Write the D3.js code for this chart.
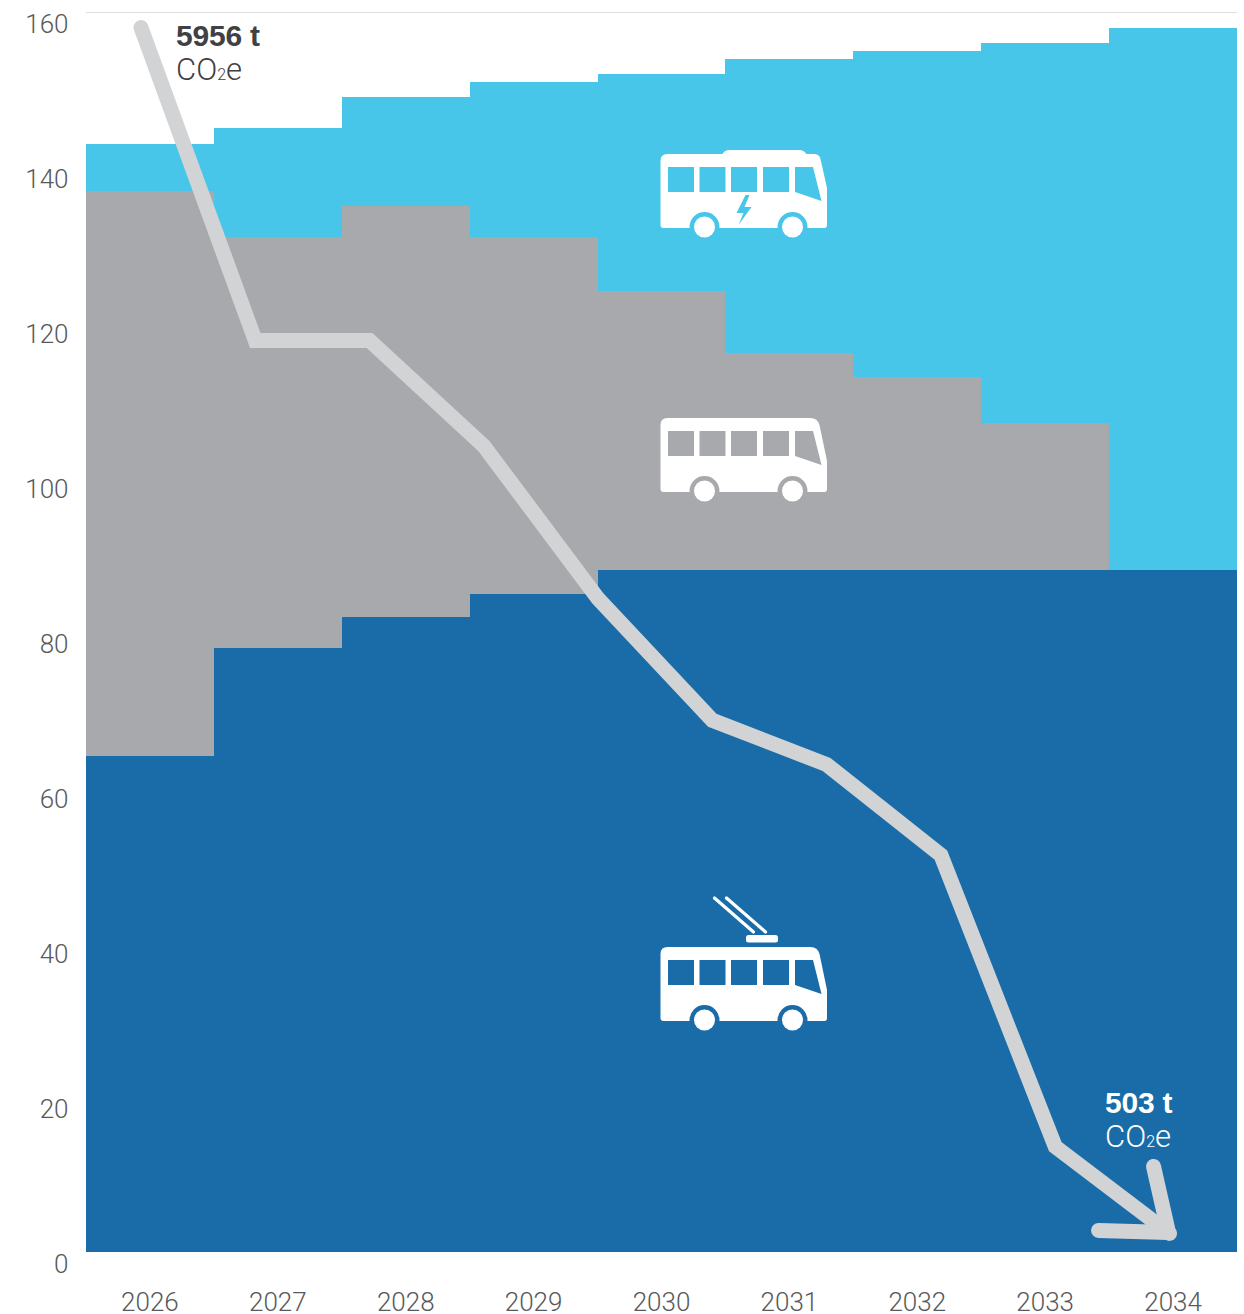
<!DOCTYPE html>
<html><head><meta charset="utf-8">
<script src="https://cdn.jsdelivr.net/npm/d3@7"></script>
<style>html,body{margin:0;padding:0;background:#fff}svg{display:block}</style>
</head><body><div id="c"></div>
<script>
const years = ["2026","2027","2028","2029","2030","2031","2032","2033","2034"];
const trolley = [64,78,82,84.9,88,88,88,88,88];
const diesel = [72.9,53,53,46.1,36,28,24.9,19,0];
const electric = [6.1,14,14,20,28,38,42.1,49,70];
const yTicks = [0,20,40,60,80,100,120,140,160];
const emissionPath = [158,117.6,117.6,104,84.3,68.6,62.9,51.2,13.6,2.4];
const seriesKeys = ["trolley","diesel","electric"];
const seriesColors = ["#1a6ca8","#a7a9ac","#48c6e9"];
const startLabel = "5956 t", endLabel = "503 t";

const W=1244,H=1314,L=86,R=1237,T=12,B=1252;
const LIGHT='Roboto,"Liberation Sans",Arial,sans-serif', BOLD='"Liberation Sans",Arial,sans-serif';
const svg=d3.select("#c").append("svg").attr("width",W).attr("height",H).attr("viewBox",[0,0,W,H]);
const x=d3.scaleBand().domain(years).range([L,R]);
const y=d3.scaleLinear().domain([0,160]).range([B,T]);
const lineX=d3.scalePoint().domain(d3.range(emissionPath.length)).range([141,1169.5]);

svg.append("line").attr("x1",L).attr("x2",R).attr("y1",12.5).attr("y2",12.5).attr("stroke","#dcddde").attr("stroke-width",1);

const rows=years.map((yr,i)=>({year:yr,trolley:trolley[i],diesel:diesel[i],electric:electric[i]}));
const stacked=d3.stack().keys(seriesKeys)(rows);
svg.append("g").attr("shape-rendering","crispEdges").selectAll("g").data(stacked).join("g").attr("fill",(d,i)=>seriesColors[i])
  .selectAll("rect").data(d=>d).join("rect")
  .attr("x",d=>x(d.data.year)).attr("width",x.bandwidth())
  .attr("y",d=>y(d[1])).attr("height",d=>Math.max(0,y(d[0])-y(d[1])));

// axes
const ay=svg.append("g").attr("transform",`translate(${L},0)`).call(d3.axisLeft(y).tickValues(yTicks).tickSize(0).tickPadding(17.5));
const ax=svg.append("g").attr("transform",`translate(0,${B})`).call(d3.axisBottom(x).tickSize(0).tickPadding(40.5));
[ay,ax].forEach(a=>{a.select(".domain").remove();a.selectAll("text").attr("font-family",LIGHT).attr("font-size",26).attr("font-weight",300).attr("fill","#58595b")});
ay.selectAll("text").attr("dy","0.32em").attr("transform","translate(0,12)");
ax.selectAll("text").attr("dy","0.71em");

// bus icons
function bus(color,dy,opts={}){
  const g=svg.append("g").attr("transform",`translate(660.5,${dy})`);
  const body=opts.roof
   ?"M7,4 H62 Q64,0 69,0 H139 Q143,0 146,4 H153 Q159,4 160,9 L166.5,38 V75 Q166.5,78 164,78 H3 Q0,78 0,75 V11 Q0,4 7,4 Z"
   :"M7,4 H150 Q157,4 159,11 L166.5,47 V75 Q166.5,78 164,78 H3 Q0,78 0,75 V11 Q0,4 7,4 Z";
  g.append("path").attr("d",body).attr("fill","#fff");
  [7.5,39,70.5,102.5].forEach(wx=>g.append("rect").attr("x",wx).attr("y",17).attr("width",26).attr("height",25).attr("fill",color));
  g.append("path").attr("d","M134.5,17 H152.5 L161,51 L134.5,42 Z").attr("fill",color);
  [44,132].forEach(cx=>{
    g.append("circle").attr("cx",cx).attr("cy",77).attr("r",15).attr("fill",color);
    g.append("circle").attr("cx",cx).attr("cy",77).attr("r",10.5).attr("fill","#fff");
  });
  if(opts.bolt) g.append("path").attr("d","M85,45 L76,63 L83,63 L78,75 L91,57 L84,57 L89,45 Z").attr("fill",color);
  if(opts.poles){
    g.append("rect").attr("x",85.5).attr("y",-8).attr("width",32).attr("height",7.5).attr("rx",2.5).attr("fill","#fff");
    [[54,-45,93,-11],[66,-45,105,-11]].forEach(p=>g.append("line").attr("x1",p[0]).attr("y1",p[1]).attr("x2",p[2]).attr("y2",p[3]).attr("stroke","#fff").attr("stroke-width",3.2).attr("stroke-linecap","round"));
  }
}
bus("#48c6e9",150,{roof:true,bolt:true});
bus("#a7a9ac",414);
bus("#1a6ca8",943,{poles:true});

// trend line
const lineGen=d3.line().x((d,i)=>lineX(i)).y(d=>y(d));
svg.append("path").attr("d",lineGen(emissionPath)).attr("fill","none").attr("stroke","#d1d3d4").attr("stroke-width",15).attr("stroke-linecap","round").attr("stroke-linejoin","miter");
const tipX=lineX(emissionPath.length-1),tipY=y(emissionPath[emissionPath.length-1]);
svg.append("path").attr("d",`M${tipX-71},${tipY-3} L${tipX-1},${tipY-1} L${tipX-16},${tipY-67}`).attr("fill","none").attr("stroke","#d1d3d4").attr("stroke-width",15).attr("stroke-linecap","round").attr("stroke-linejoin","round");

// annotations
function note(px,py,big,color){
  svg.append("text").attr("x",px).attr("y",py).attr("font-family",BOLD).attr("font-size",30).attr("font-weight",700).attr("fill",color).style("letter-spacing","-0.2px").text(big);
  const t=svg.append("text").attr("x",px).attr("y",py+34).attr("font-family",LIGHT).attr("font-size",31).attr("font-weight",300).attr("fill",color);
  t.append("tspan").text("CO");
  t.append("tspan").attr("font-size",16).text("2");
  t.append("tspan").text("e");
}
note(176,46,startLabel,"#414042");
note(1105,1113,endLabel,"#fff");
</script></body></html>
